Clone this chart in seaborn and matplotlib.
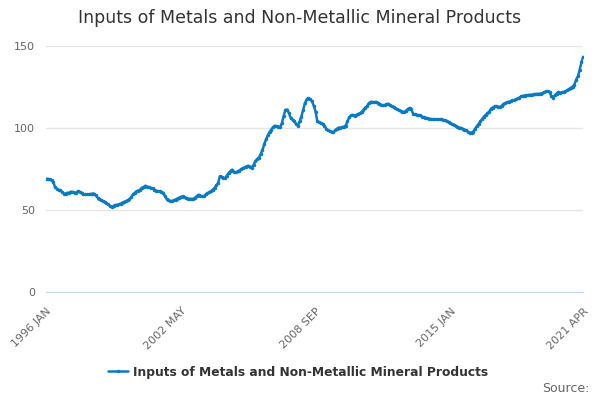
import numpy as np
import pandas as pd
import matplotlib
matplotlib.use("Agg")
import matplotlib.pyplot as plt
import seaborn as sns

# monthly index values, 1996 JAN .. 2021 APR
y1996 = [69, 69, 68.7, 68, 67, 64, 63, 62, 62, 61, 60, 60]
y1997 = [60.5, 60.5, 61.2, 61, 60.6, 60.5, 61.6, 61, 60.5, 59.5, 59.5, 59.5]
y1998 = [59.5, 59.7, 60, 60, 59, 57.5, 57, 56, 55.5, 55, 54, 53.4]
y1999 = [52.5, 51.8, 52.5, 53, 53.2, 53.5, 53.8, 54.5, 55, 55.3, 56, 56.5]
y2000 = [58, 59.5, 60.5, 61.5, 61.8, 62.4, 63.6, 64, 64.8, 64.2, 64, 63.5]
y2001 = [63.2, 62.5, 61.8, 61.5, 61.3, 61, 60.4, 58.5, 56.7, 56, 55.5, 55.5]
y2002 = [56, 56.3, 57, 57.5, 58, 58.3, 57.8, 57.3, 57, 56.8, 56.8, 56.7]
y2003 = [57.5, 58.5, 59.3, 58.7, 58.3, 58.5, 59.5, 60.2, 60.8, 61.5, 62.4, 63.5]
y2004 = [65, 66.5, 70.5, 70.3, 69.5, 69.5, 71, 72.6, 73.8, 74.6, 73, 73]
y2005 = [73.5, 74, 75, 75.5, 76, 76.5, 77, 76.5, 75.8, 77.5, 79.6, 81]
y2006 = [82, 84, 86.5, 90, 93, 95.5, 97.5, 99, 100.5, 101.4, 101, 100.6]
y2007 = [100.6, 103, 107.5, 111, 111.2, 109, 106, 105, 104, 102.5, 101.4, 104]
y2008 = [107, 111, 115.2, 117.5, 118.3, 117.5, 116.2, 113.5, 110, 104, 103.5, 103]
y2009 = [102.5, 101.5, 99.5, 98.5, 98, 97.5, 97.5, 98.5, 99.5, 100.2, 100.2, 100.5]
y2010 = [100.8, 101.5, 104, 106.5, 107.7, 108, 107.5, 108, 108.5, 109, 109.7, 111]
y2011 = [112.5, 113.2, 115, 115.9, 115.9, 115.7, 115.9, 115.5, 114.8, 114.2, 113.8, 114]
y2012 = [114.5, 114.8, 114, 113.2, 112.6, 112, 111.5, 110.8, 110.3, 110, 109.7, 110.5]
y2013 = [111.5, 112.2, 111.5, 108.8, 108.3, 108, 107.8, 107.7, 107, 106.6, 106.2, 106]
y2014 = [105.7, 105.5, 105.3, 105.2, 105.3, 105.3, 105.3, 105.2, 105, 104.6, 104, 103.4]
y2015 = [103, 102.3, 102, 101.3, 100.7, 100.3, 100, 99.5, 99, 98.5, 97.8, 97.2]
y2016 = [97.2, 97.8, 99.5, 101.2, 102.5, 104, 105.5, 107, 108, 109, 110, 111.8]
y2017 = [112.5, 113.2, 113.2, 113, 112.8, 113.5, 114.5, 115.2, 115.6, 116, 116.3, 116.8]
y2018 = [117, 117.5, 118, 118.5, 119.3, 119.6, 119.8, 120, 120, 120.3, 120.3, 120.5]
y2019 = [120.6, 120.8, 120.8, 121, 121.2, 121.8, 122.3, 122.5, 122, 119.5, 118.5, 120]
y2020 = [121, 122, 121.5, 121.7, 122, 122.3, 123, 123.8, 124.5, 125.2, 126.5, 129.4]
y2021 = [131.5, 135.5, 140, 143.5]

values = (y1996 + y1997 + y1998 + y1999 + y2000 + y2001 + y2002 + y2003 + y2004
          + y2005 + y2006 + y2007 + y2008 + y2009 + y2010 + y2011 + y2012 + y2013
          + y2014 + y2015 + y2016 + y2017 + y2018 + y2019 + y2020 + y2021)

months = ['JAN', 'FEB', 'MAR', 'APR', 'MAY', 'JUN', 'JUL', 'AUG', 'SEP', 'OCT', 'NOV', 'DEC']
labels = [f"{1996 + i // 12} {months[i % 12]}" for i in range(len(values))]
series_name = "Inputs of Metals and Non-Metallic Mineral Products"

df = pd.DataFrame({"idx": range(len(values)), "value": values, "series": series_name})

sns.set_style("white")
plt.rcParams['font.family'] = ['DejaVu Sans']

fig = plt.figure(figsize=(6, 4), dpi=100)
ax = fig.add_axes([0.077, 0.27, 0.895, 0.615])

blue = "#0a7bc1"
sns.lineplot(data=df, x="idx", y="value", hue="series", palette=[blue], ax=ax,
             marker="o", markersize=2.5, markeredgewidth=0, linewidth=1.8)

last = len(values) - 1
ax.set_xlim(0, last)
ax.set_ylim(0, 150)
ax.set_yticks([0, 50, 100, 150])
ax.yaxis.grid(True, color="#e6e6e6", linewidth=1)
ax.tick_params(axis="y", length=0, labelsize=8, labelcolor="#666666", pad=8)

# labelled ticks every 76 months plus the last month, small ticks every 19
major = [0, 76, 152, 228, last]
minor = list(range(0, len(values), 19))
ax.set_xticks(minor, minor=True)
ax.set_xticks(major)
ax.set_xticklabels([labels[i] for i in major], rotation=45, ha="right",
                   rotation_mode="anchor", fontsize=8, color="#666666")
ax.tick_params(axis="x", which="both", length=8, color="#ccd6eb", direction="out")
ax.tick_params(axis="x", which="major", pad=2)

for s in ["top", "right", "left"]:
    ax.spines[s].set_visible(False)
ax.spines["bottom"].set_color("#ccd6eb")
ax.set_xlabel("")
ax.set_ylabel("")

fig.text(0.5, 0.955, series_name, ha="center", va="center", fontsize=12.5, color="#333333")

leg = ax.legend(loc="upper center", bbox_to_anchor=(0.469, -0.255), frameon=False,
                fontsize=8.8, handlelength=1.6, handletextpad=0.4)
for t in leg.get_texts():
    t.set_fontweight("bold")
    t.set_color("#333333")

fig.text(0.983, 0.012, "Source:", ha="right", va="bottom", fontsize=9, color="#666666")

fig.savefig("out.png", dpi=100)
